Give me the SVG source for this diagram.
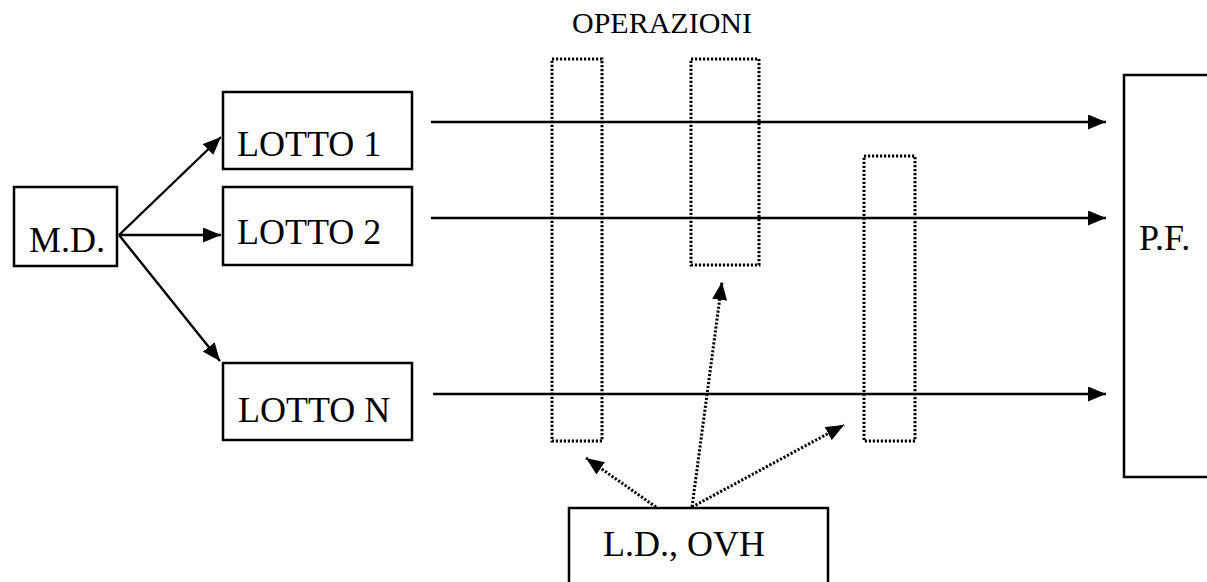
<svg xmlns="http://www.w3.org/2000/svg" width="1207" height="582" viewBox="0 0 1207 582">
<style>
.box{fill:#fff;stroke:#000;stroke-width:2.5}
.op{fill:none;stroke:#000;stroke-width:3;stroke-dasharray:2.2 1.8}
.t{font-family:"Liberation Serif","Times New Roman",serif;font-size:36px;fill:#000}
.ln{stroke:#000;stroke-width:2.4;fill:none}
.dl{stroke:#000;stroke-width:3;stroke-dasharray:2.2 1.8;fill:none}
</style>
<defs>
<marker id="ah" markerUnits="userSpaceOnUse" markerWidth="19" markerHeight="15" refX="18" refY="7.5" orient="auto">
<path d="M0,0 L18,7.5 L0,15 z" fill="#000"/>
</marker>
</defs>
<rect width="1207" height="582" fill="#fff"/>
<text x="572" y="33" class="t" style="font-size:30px">OPERAZIONI</text>
<g id="ops">
<rect x="552" y="59" width="50" height="382" class="op"/>
<rect x="691" y="59" width="68" height="206" class="op"/>
<rect x="864" y="156" width="51" height="285" class="op"/>
</g>
<g id="connectors">
<line x1="119" y1="235" x2="221" y2="137" class="ln" marker-end="url(#ah)"/>
<line x1="119" y1="235" x2="221" y2="235" class="ln" marker-end="url(#ah)"/>
<line x1="119" y1="235" x2="220" y2="361" class="ln" marker-end="url(#ah)"/>
<line x1="431" y1="122" x2="1106" y2="122" class="ln" marker-end="url(#ah)"/>
<line x1="431" y1="218" x2="1106" y2="218" class="ln" marker-end="url(#ah)"/>
<line x1="433" y1="394" x2="1106" y2="394" class="ln" marker-end="url(#ah)"/>
<line x1="656" y1="507" x2="586" y2="458" class="dl" marker-end="url(#ah)"/>
<line x1="692" y1="507" x2="722" y2="282" class="dl" marker-end="url(#ah)"/>
<line x1="692" y1="507" x2="844" y2="425" class="dl" marker-end="url(#ah)"/>
</g>
<g id="md"><rect x="14" y="187" width="103" height="79" class="box"/><text x="29" y="252" class="t">M.D.</text></g>
<g id="lotto1"><rect x="223" y="92" width="189" height="77" class="box"/><text x="237" y="156" class="t">LOTTO 1</text></g>
<g id="lotto2"><rect x="223" y="187" width="189" height="78" class="box"/><text x="237" y="244" class="t">LOTTO 2</text></g>
<g id="lottoN"><rect x="223" y="363" width="189" height="77" class="box"/><text x="238" y="422" class="t">LOTTO N</text></g>
<g id="pf"><rect x="1124" y="75" width="100" height="402" class="box"/><text x="1139" y="250" class="t">P.F.</text></g>
<g id="ld"><rect x="569" y="508" width="259" height="90" class="box"/><text x="603" y="556" class="t">L.D., OVH</text></g>
</svg>
